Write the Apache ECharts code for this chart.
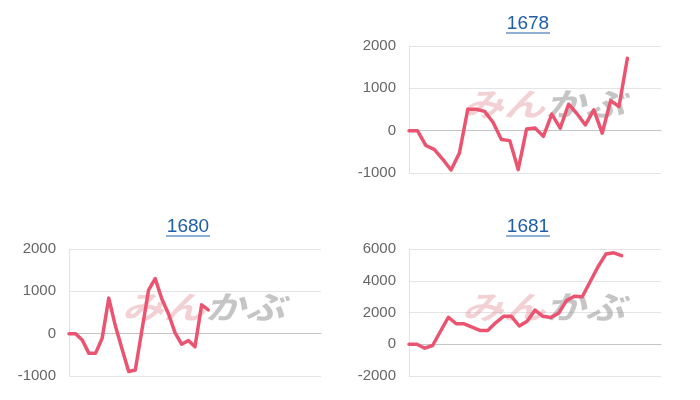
<!DOCTYPE html>
<html>
<head>
<meta charset="utf-8">
<script src="https://cdn.jsdelivr.net/npm/echarts@6/dist/echarts.min.js"></script>
<style>
html,body{margin:0;padding:0;background:#fff;}
#c{width:700px;height:400px;}
</style>
</head>
<body>
<div id="c"></div>
<script>
// ---- data ----
const titles = ['1678', '1680', '1681'];
const s1678 = [0, 0, -350, -440, -670, -930, -530, 505, 505, 455, 200, -210, -235, -920, 40, 65, -135, 390, 60, 625, 400, 135, 490, -60, 710, 570, 1710];
const s1680 = [0, 0, -150, -465, -465, -110, 840, 180, -360, -895, -860, 85, 1030, 1300, 820, 470, 20, -250, -160, -310, 680, 560];
const s1681 = [0, 0, -250, -80, 820, 1700, 1290, 1290, 1080, 870, 870, 1350, 1760, 1760, 1150, 1450, 2150, 1760, 1680, 1950, 2750, 3020, 2990, 3940, 4880, 5680, 5760, 5580];
const seriesValues = [s1678, s1680, s1681];
const xSpan = [30, 38, 32];
const yMins = [-1000, -1000, -2000];
const yMaxs = [2000, 2000, 6000];
const ySteps = [1000, 1000, 2000];

// ---- layout ----
const grids = [
  {left: 409, top: 46, width: 252, height: 127},
  {left: 69, top: 249, width: 252, height: 127},
  {left: 409, top: 249, width: 252, height: 127}
];
const lineColor = '#eb5471';
const font = 'Liberation Sans, Arial, sans-serif';

const chart = echarts.init(document.getElementById('c'), null, {renderer: 'canvas'});

const graphic = [];
grids.forEach((g, k) => {
  const cx = g.left + g.width / 2;
  const cy = g.top + g.height / 2;
  // watermark
  graphic.push({
    type: 'text', z: 1, silent: true,
    x: cx + 10, y: cy - 6, scaleX: 1.3,
    style: {text: 'みん', font: 'italic bold 32px "Noto Sans CJK JP"', fill: 'rgba(228,150,158,0.45)', textAlign: 'right', textVerticalAlign: 'middle'}
  });
  graphic.push({
    type: 'text', z: 1, silent: true,
    x: cx + 10, y: cy - 6, scaleX: 1.25,
    style: {text: 'かぶ', font: 'italic bold 32px "Noto Sans CJK JP"', fill: 'rgba(150,150,150,0.55)', textAlign: 'left', textVerticalAlign: 'middle'}
  });
  // title
  const tx = cx - 7;
  const ty = g.top - 22;
  graphic.push({
    type: 'text', z: 10,
    x: tx, y: ty,
    style: {text: titles[k], font: '19px ' + font, fill: '#1f5ea8', textAlign: 'center', textVerticalAlign: 'middle'}
  });
  graphic.push({
    type: 'line', z: 10,
    shape: {x1: tx - 22, y1: ty + 9, x2: tx + 22, y2: ty + 9},
    style: {stroke: '#1f5ea8', lineWidth: 1.2}
  });
});

const option = {
  backgroundColor: '#fff',
  animation: false,
  grid: grids.map(g => Object.assign({containLabel: false}, g)),
  xAxis: grids.map((g, k) => ({
    gridIndex: k, type: 'value', min: 0, max: xSpan[k],
    axisLabel: {show: false}, axisTick: {show: false}, splitLine: {show: false},
    axisLine: {show: true, onZero: true, lineStyle: {color: '#c4c4c4', width: 1}}
  })),
  yAxis: grids.map((g, k) => ({
    gridIndex: k, type: 'value', min: yMins[k], max: yMaxs[k], interval: ySteps[k],
    axisLine: {show: true, lineStyle: {color: '#e2e2e2'}},
    axisTick: {show: false},
    splitLine: {show: true, lineStyle: {color: '#e4e4e4'}},
    axisLabel: {fontSize: 15, color: '#666', fontFamily: font, margin: 13, formatter: v => String(v)}
  })),
  series: seriesValues.map((vals, k) => ({
    type: 'line', xAxisIndex: k, yAxisIndex: k, z: 5,
    symbol: 'none',
    lineStyle: {color: lineColor, width: 3.5, join: 'round', cap: 'round'},
    data: vals.map((v, i) => [i, v])
  })),
  graphic: graphic
};
chart.setOption(option);
</script>
</body>
</html>
